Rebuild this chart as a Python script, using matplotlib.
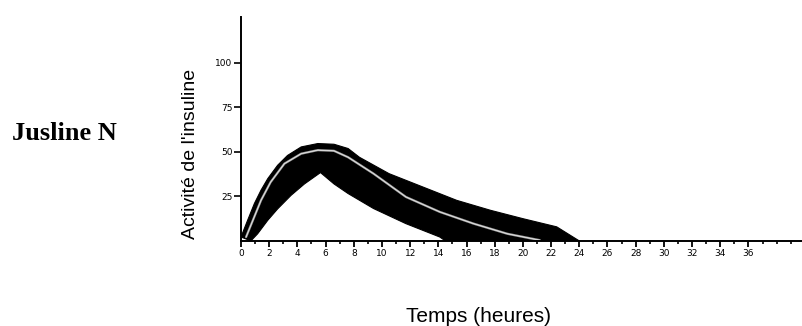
import matplotlib.pyplot as plt
from matplotlib.ticker import MultipleLocator

# Upper and lower edges of the black band, and the mean curve (grey)
upper_x = [0, 0.47, 0.95, 1.42, 1.9, 2.6, 3.3, 4.27, 5.45, 6.6, 7.6, 8.4, 10.5,
           12.9, 15.3, 17.7, 20, 22.4, 24]
upper_y = [2.2, 11.6, 21, 28.5, 35, 42.5, 48, 52.8, 54.7, 54.3, 51.9, 47, 37.8,
           30.3, 22.8, 17.2, 12.5, 7.9, 0]
lower_x = [0.7, 1.18, 1.9, 2.6, 3.55, 4.5, 5.64, 6.6, 7.6, 9.4, 11.7, 14.1, 14.5]
lower_y = [0, 4, 11.6, 18, 25.6, 32, 38.4, 32, 26.6, 18.2, 9.7, 2.2, 0]
mean_x = [0.36, 0.7, 1.42, 2.1, 3.08, 4.27, 5.45, 6.6, 7.6, 9.4, 11.7, 14.1,
          16.5, 18.9, 21.2]
mean_y = [2.2, 8.8, 22.8, 33, 43.4, 49, 51, 50.6, 47, 37.8, 24.7, 16.3, 9.7, 4, 0.4]

x_ticks = list(range(0, 37, 2))
y_ticks = [25, 50, 75, 100]

fig = plt.figure(figsize=(8.02, 3.26), dpi=100)
ax = fig.add_axes([0.3005, 0.261, 0.6995, 0.688])

# band
ax.fill(upper_x + lower_x[::-1], upper_y + lower_y[::-1], color='black', lw=0.8)
ax.plot(mean_x, mean_y, color='#a0a0a0', lw=1.6, solid_capstyle='round')
ax.plot(mean_x, mean_y, color='white', lw=0.4)

ax.set_xlim(0, 39.8)
ax.set_ylim(0, 126)
ax.set_xticks(x_ticks)
ax.xaxis.set_minor_locator(MultipleLocator(1))
ax.set_yticks(y_ticks)

for side in ['top', 'right']:
    ax.spines[side].set_visible(False)
ax.spines['left'].set_linewidth(1.4)
ax.spines['bottom'].set_linewidth(1.4)
ax.tick_params(axis='x', which='major', length=4, width=1.3, labelsize=6.5, pad=1.5)
ax.tick_params(axis='x', which='minor', length=2.5, width=1.2)
ax.tick_params(axis='y', length=5, width=1.2, labelsize=6.5, pad=1)

# axis titles placed as free text
fig.text(0.237, 0.528, "Activité de l'insuline", fontsize=14, family='Liberation Sans',
         rotation=90, ha='center', va='center')
fig.text(0.597, 0.0125, 'Temps (heures)', fontsize=15, family='Liberation Sans',
         ha='center', va='baseline')
fig.text(0.015, 0.571, 'Jusline N', fontsize=19, family='Liberation Serif',
         weight='bold', va='baseline')

fig.savefig('out.png', dpi=100)
